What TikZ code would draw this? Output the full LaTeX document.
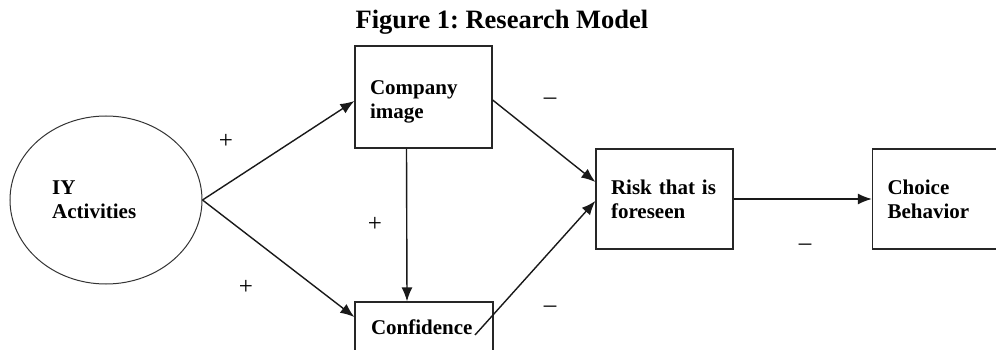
\documentclass[tikz,border=0pt]{standalone}
\usepackage{fontspec}
\setmainfont{Liberation Serif}
\usetikzlibrary{arrows.meta,shapes.geometric}
\frenchspacing
\begin{document}
\begin{tikzpicture}[x=1pt,y=-1pt,
  box/.style={draw=black!85,line width=1.3pt,inner xsep=15pt,inner ysep=0pt,
    text width=107pt,align=left,font=\fontsize{21}{24}\selectfont\bfseries},
  arr/.style={draw=black!90,line width=1.4pt,-{Latex[length=14pt,width=11pt]}},
  sign/.style={font=\fontsize{25}{25}\selectfont,inner sep=0pt},
  lbl/.style={font=\fontsize{21}{24}\selectfont\bfseries,align=left,inner sep=0pt}
]
\clip (0,0) rectangle (996,350);
\fill[white] (0,0) rectangle (996,350);

\node[font=\fontsize{26.5}{30}\selectfont\bfseries,inner sep=0pt] (title) at (502,22) {Figure 1: Research Model};

\node[draw=black!80,line width=1pt,ellipse,minimum width=192pt,minimum height=168pt,inner sep=0pt] (iy) at (106,200) {};
\node[lbl,anchor=west] (iytext) at (52,200) {IY\\Activities};

\node[box,minimum height=102pt] (company) at (423.5,97) {\rule{0pt}{23pt}Company\\image};
\node[box,minimum height=50pt,inner xsep=16pt,text width=106pt] (conf) at (424,327) {Confidence};
\node[box,minimum height=100pt] (risk) at (664.5,199) {Risk that is\\foreseen};
\node[box,minimum height=100pt] (choice) at (941,199) {Choice\\Behavior};

\coordinate (cstart) at (475,335);

\draw[arr] (iy.east) -- ([yshift=-4pt]company.west);
\draw[arr] (iy.east) -- ([yshift=10pt]conf.west);
\draw[arr] ([xshift=-17pt]company.south) -- ([xshift=-17pt]conf.north);
\draw[arr] ([yshift=-3pt]company.east) -- ([yshift=17pt]risk.west);
\draw[arr] (cstart) -- ([yshift=-2pt]risk.west);
\draw[arr] (risk.east) -- (choice.west);

\node[sign] (p1) at (226,141) {+};
\node[sign] (p2) at (375,224) {+};
\node[sign] (p3) at (246,287) {+};
\node[sign] (m1) at (550,101) {–};
\node[sign] (m2) at (550,309) {–};
\node[sign] (m3) at (805,247) {–};
\end{tikzpicture}
\end{document}
